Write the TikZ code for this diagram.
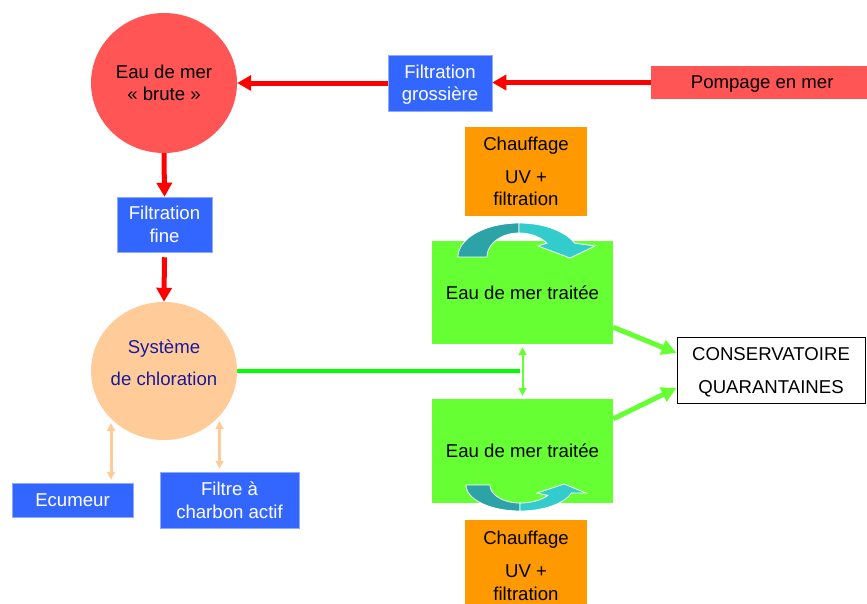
\documentclass[tikz,border=0pt]{standalone}
\usepackage{fontspec}
\setmainfont{Liberation Sans}
\usetikzlibrary{arrows.meta,shapes.geometric}

\definecolor{rawred}{HTML}{FF5555}
\definecolor{flowred}{HTML}{FF0000}
\definecolor{boxblue}{HTML}{3366FF}
\definecolor{treatgreen}{HTML}{66FF33}
\definecolor{linegreen}{HTML}{00FF00}
\definecolor{heatorange}{HTML}{FF9900}
\definecolor{chlorpeach}{HTML}{FFCC99}
\definecolor{chlornavy}{HTML}{1A1A99}
\definecolor{tealdark}{HTML}{2CA3A6}
\definecolor{teallight}{HTML}{33CCCC}

\begin{document}
\begin{tikzpicture}[x=1pt,y=-1pt,
  font=\fontsize{18.6}{22.5}\selectfont,
  every node/.style={inner sep=0pt, align=center, text depth=0pt},
  bluebox/.style={rectangle, fill=boxblue, draw=boxblue!55!white, line width=0.5pt, text=white},
  rawball/.style={ellipse, fill=rawred},
  chlorball/.style={ellipse, fill=chlorpeach},
  pumpbox/.style={rectangle, fill=rawred},
  greenbox/.style={rectangle, fill=treatgreen},
  heatbox/.style={rectangle, fill=heatorange},
  storebox/.style={rectangle, fill=white, draw=black, line width=1pt},
  redarrow/.style={draw=flowred, line width=5pt, -{Triangle[length=14pt,width=15pt]}},
  greenarrow/.style={draw=treatgreen, line width=5pt, -{Triangle[length=15pt,width=15pt]}},
  greenline/.style={draw=linegreen, line width=4pt},
  greendbl/.style={draw=treatgreen, line width=2pt, {Triangle[length=8pt,width=8pt]}-{Triangle[length=8pt,width=8pt]}},
  peacharrow/.style={draw=chlorpeach, line width=3pt, {Triangle[length=8pt,width=8pt]}-{Triangle[length=8pt,width=8pt]}},
  turnband/.style={line width=0.8pt, draw=white}
]
\useasboundingbox (0,0) rectangle (867,603);

% --- intake line ---
\node[rawball, minimum width=146pt, minimum height=140pt] (brute) at (164,83) {Eau de mer\\« brute »};
\node[bluebox, minimum width=104pt, minimum height=56pt] (filtg) at (440,83) {Filtration\\grossière};
\node[pumpbox, minimum width=222pt, minimum height=33pt, anchor=west] (pomp) at (651,82.5) {Pompage en mer};

% --- fine filtration and chlorination ---
\node[bluebox, minimum width=95pt, minimum height=55pt] (filtf) at (164.5,224.5) {Filtration\\fine};
\node[chlorball, minimum width=146pt, minimum height=138pt] (chlor) at (164,371) {};
\node[text=chlornavy] (chlortxt) at (164,363) {Système\\[9.5pt]de chloration};
\node[bluebox, minimum width=121pt, minimum height=34pt] (ecu) at (72.5,500) {Ecumeur};
\node[bluebox, minimum width=139pt, minimum height=56pt] (filt) at (229.5,500) {Filtre à\\charbon actif};

% --- treated water tanks ---
\node[heatbox, minimum width=122pt, minimum height=89pt] (heattop) at (526,171.5) {Chauffage\\[10.5pt]UV +\\filtration};
\node[greenbox, minimum width=181pt, minimum height=103pt] (tg) at (522.5,292.5) {Eau de mer traitée};
\node[greenbox, minimum width=181pt, minimum height=104pt] (bg) at (522.5,451) {Eau de mer traitée};
\node[heatbox, minimum width=122pt, minimum height=91pt] (heatbot) at (526,565.5) {Chauffage\\[10.5pt]UV +\\filtration};
\node[storebox, minimum width=188pt, minimum height=66pt] (cons) at (771,370) {CONSERVATOIRE\\[10.5pt]QUARANTAINES};

% --- connectors ---
\draw[redarrow] (pomp.west) -- (pomp.west -| filtg.east);
\draw[redarrow] (filtg.west) -- (filtg.west -| brute.east);
\draw[redarrow] (brute.south) -- (filtf.north);
\draw[redarrow, shorten <=5pt] (filtf.south) -- (chlor.north);

\coordinate (tee) at (520,371);
\draw[greenline] (chlor.east) -- (tee);
\draw[greendbl, shorten <=3pt, shorten >=3pt] (tg.south) -- (bg.north);
\draw[greenarrow] ([yshift=17pt]tg.south east) -- ([yshift=17pt]cons.west);
\draw[greenarrow] ([yshift=-20pt]bg.north east) -- ([yshift=-18pt]cons.west);

\coordinate (ecutip) at (111,423);
\coordinate (filttip) at (219.5,421);
\draw[peacharrow, shorten <=3pt] (ecu.north -| ecutip) -- (ecutip);
\draw[peacharrow, shorten <=3pt] (filt.north -| filttip) -- (filttip);

% --- circulation arrow over the upper tank ---
\filldraw[turnband, fill=tealdark]
  plot[domain=180:90, samples=30, variable=\t] ({519+61*cos(\t)},{257-34*sin(\t)})
  -- plot[domain=90:180, samples=30, variable=\t] ({519+32*cos(\t)},{257-24*sin(\t)})
  -- cycle;
\filldraw[turnband, fill=teallight]
  plot[domain=90:24, samples=30, variable=\t] ({519+61*cos(\t)},{257-34*sin(\t)})
  -- (595,246) -- (570,258) -- (538,246)
  -- plot[domain=35:90, samples=30, variable=\t] ({519+34*cos(\t)},{257-24*sin(\t)})
  -- cycle;

% --- circulation arrow under the lower tank ---
\filldraw[turnband, fill=tealdark]
  plot[domain=180:90, samples=30, variable=\t] ({520+54*cos(\t)},{485+26*sin(\t)})
  -- plot[domain=90:180, samples=30, variable=\t] ({520+30*cos(\t)},{485+18*sin(\t)})
  -- cycle;
\filldraw[turnband, fill=teallight]
  plot[domain=90:18, samples=30, variable=\t] ({520+54*cos(\t)},{485+26*sin(\t)})
  -- (586,493) -- (564,484) -- (537,493)
  -- plot[domain=35:90, samples=30, variable=\t] ({520+34*cos(\t)},{485+18*sin(\t)})
  -- cycle;
\end{tikzpicture}
\end{document}
